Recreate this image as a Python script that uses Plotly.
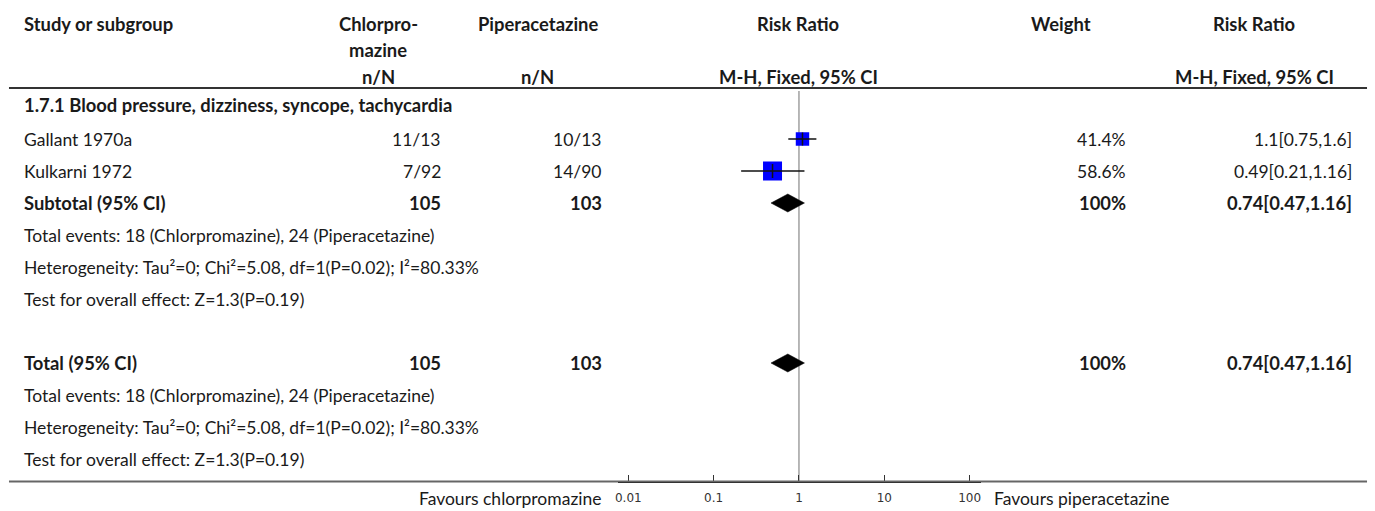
import plotly.graph_objects as go

W, H = 1375, 511

# ---- study data ----
studies = ["Gallant 1970a", "Kulkarni 1972"]
chl_events = [11, 7]
chl_total = [13, 92]
pip_events = [10, 14]
pip_total = [13, 90]
rr = [1.1, 0.49]
rr_lo = [0.75, 0.21]
rr_hi = [1.6, 1.16]
weights = [41.4, 58.6]

# ---- pooled (fixed effect, M-H) ----
pooled_rr = 0.74
pooled_lo = 0.47
pooled_hi = 1.16
pooled_chl_n = 105
pooled_pip_n = 103
pooled_weight = 100
total_events_chl = 18
total_events_pip = 24
heterogeneity = "Heterogeneity: Tau²=0; Chi²=5.08, df=1(P=0.02); I²=80.33%"
overall_effect = "Test for overall effect: Z=1.3(P=0.19)"

subgroup_title = "1.7.1 Blood pressure, dizziness, syncope, tachycardia"
axis_ticks = [0.01, 0.1, 1, 10, 100]
axis_tick_labels = ["0.01", "0.1", "1", "10", "100"]
favours_left = "Favours chlorpromazine"
favours_right = "Favours piperacetazine"

# ---- layout geometry (pixels) ----
ROW0, ROWH = 107, 32           # centre of first body row, row pitch
def row_of(py):
    return (py - ROW0) / ROWH

FONT = "Lato"
TXT = "#1a1a1a"
FS = 17.5
FSB = 18.4

X_STUDY = 21
X_CHL = 439
X_PIP = 600
X_WT = 1125
X_RR = 1352
HC_CHL, HC_PIP, HC_RR, HC_WT, HC_RR2 = 376, 536, 797, 1060, 1254
AXIS_Y = 481.5

fig = go.Figure()
ann = []

def text(px, row, s, anchor="left", bold=False, color=TXT):
    ann.append(dict(
        x=px / W, xref="paper", y=row, yref="y", text=f"<b>{s}</b>" if bold else s,
        showarrow=False, xanchor=anchor, yanchor="middle",
        borderpad=0, borderwidth=0,
        font=dict(family=FONT, size=FSB if bold else FS, color=color)))

# header
text(X_STUDY, row_of(24), "Study or subgroup", bold=True)
text(HC_CHL, row_of(24), "Chlorpro-", "center", True)
text(HC_CHL, row_of(50), "mazine", "center", True)
text(HC_PIP, row_of(24), "Piperacetazine", "center", True)
text(HC_RR, row_of(24), "Risk Ratio", "center", True)
text(HC_WT, row_of(24), "Weight", "center", True)
text(HC_RR2, row_of(24), "Risk Ratio", "center", True)
text(HC_CHL, row_of(77), "n/N", "center", True)
text(HC_PIP, row_of(77), "n/N", "center", True)
text(HC_RR, row_of(77), "M-H, Fixed, 95% CI", "center", True)
text(HC_RR2, row_of(77), "M-H, Fixed, 95% CI", "center", True)

# subgroup
text(X_STUDY, row_of(105), subgroup_title, bold=True)
for i, name in enumerate(studies):
    r = 1 + i
    text(X_STUDY, r, name)
    text(X_CHL, r, f"{chl_events[i]}/{chl_total[i]}", "right")
    text(X_PIP, r, f"{pip_events[i]}/{pip_total[i]}", "right")
    text(X_WT, r, f"{weights[i]:g}%", "right")
    text(X_RR, r, f"{rr[i]:g}[{rr_lo[i]:g},{rr_hi[i]:g}]", "right")

summary_rows = [(3, "Subtotal (95% CI)"), (8, "Total (95% CI)")]
for r, label in summary_rows:
    text(X_STUDY, r, label, bold=True)
    text(X_CHL, r, f"{pooled_chl_n}", "right", True)
    text(X_PIP, r, f"{pooled_pip_n}", "right", True)
    text(X_WT, r, f"{pooled_weight:g}%", "right", True)
    text(X_RR, r, f"{pooled_rr:g}[{pooled_lo:g},{pooled_hi:g}]", "right", True)
    text(X_STUDY, r + 1, f"Total events: {total_events_chl} (Chlorpromazine), "
                         f"{total_events_pip} (Piperacetazine)")
    text(X_STUDY, r + 2, heterogeneity)
    text(X_STUDY, r + 3, overall_effect)

# favours labels beside the axis
text(600, row_of(498), favours_left, "right")
text(993, row_of(498), favours_right, "left")

# ---- marks ----
study_rows = [1 + i for i in range(len(studies))]
wmax = max(weights)
fig.add_trace(go.Scatter(
    x=rr, y=study_rows, mode="markers",
    marker=dict(symbol="square", color="#0000FF", opacity=1,
                size=[19 * w / wmax for w in weights], line=dict(width=0)),
    hoverinfo="skip", showlegend=False))
for i in range(len(studies)):
    fig.add_trace(go.Scatter(
        x=[rr_lo[i], rr_hi[i]], y=[study_rows[i]] * 2, mode="lines",
        line=dict(color="#111111", width=1.4), hoverinfo="skip", showlegend=False))
fig.add_trace(go.Scatter(
    x=rr, y=study_rows, mode="markers",
    marker=dict(symbol="line-ns", size=[8 + 2 * w / wmax for w in weights],
                opacity=1, line=dict(color="#111111", width=1.5)),
    hoverinfo="skip", showlegend=False))

half_h = 9 / ROWH
for r, _ in summary_rows:
    fig.add_trace(go.Scatter(
        x=[pooled_lo, pooled_rr, pooled_hi, pooled_rr, pooled_lo],
        y=[r, r - half_h, r, r + half_h, r],
        mode="lines", fill="toself", fillcolor="#000000",
        line=dict(color="#000000", width=0.5), hoverinfo="skip", showlegend=False))

# ---- rules ----
shapes = [
    dict(type="line", xref="paper", yref="y", x0=6 / W, x1=1367 / W,
         y0=row_of(88), y1=row_of(88), line=dict(color="#333333", width=1.8)),
    dict(type="line", xref="paper", yref="y", x0=6 / W, x1=1367 / W,
         y0=row_of(AXIS_Y), y1=row_of(AXIS_Y), line=dict(color="#666666", width=1.8)),
    dict(type="line", xref="x", yref="y", x0=1, x1=1,
         y0=row_of(91), y1=row_of(AXIS_Y), line=dict(color="#A6A6A6", width=1.6),
         layer="below"),
]

x0_px, x1_px = 616, 980
dec = 85.5
lo_log = -2 - (626.7 - x0_px) / dec
hi_log = lo_log + (x1_px - x0_px) / dec

fig.update_layout(
    width=W, height=H, margin=dict(l=0, r=0, t=0, b=0),
    paper_bgcolor="white", plot_bgcolor="rgba(0,0,0,0)",
    annotations=ann, shapes=shapes,
    xaxis=dict(type="log", range=[lo_log, hi_log],
               domain=[x0_px / W, x1_px / W], anchor="free",
               position=(H - AXIS_Y) / H,
               showgrid=False, zeroline=False, showline=True,
               linecolor="#000000", linewidth=2,
               ticks="inside", ticklen=6, tickwidth=1, tickcolor="#333333",
               tickvals=axis_ticks, ticktext=axis_tick_labels,
               ticklabelstandoff=5,
               tickfont=dict(family="DejaVu Sans", size=12, color="#333333"),
               fixedrange=True),
    yaxis=dict(range=[row_of(H), row_of(0)], domain=[0, 1], visible=False,
               fixedrange=True),
)

fig.write_html("out.html")
